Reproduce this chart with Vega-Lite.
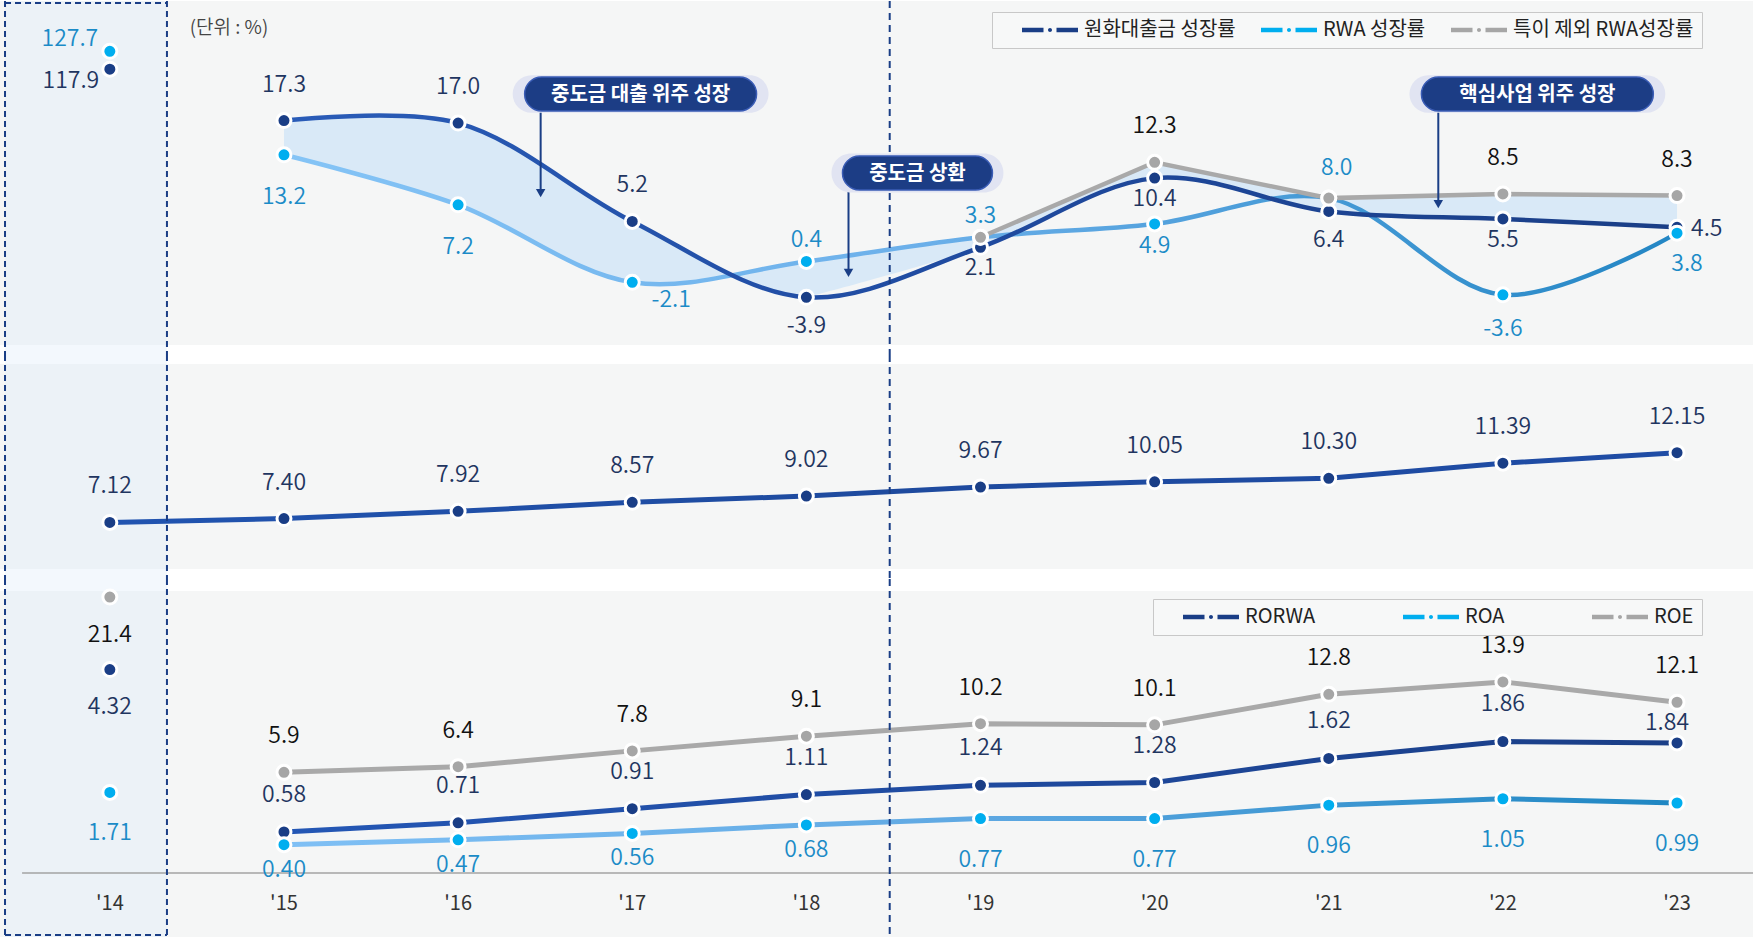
{
 "$schema": "https://vega.github.io/schema/vega-lite/v6.json",
 "padding": 0,
 "background": "#ffffff",
 "config": {"view": {"stroke": null}, "font": "Noto Sans CJK KR", "text": {"font": "Noto Sans CJK KR", "fontWeight": 350}},
 "datasets": {
  "growth": [
   {"year": 2014, "loan": 117.9, "rwa": 127.7, "ex": null},
   {"year": 2015, "loan": 17.3, "rwa": 13.2, "ex": null},
   {"year": 2016, "loan": 17.0, "rwa": 7.2, "ex": null},
   {"year": 2017, "loan": 5.2, "rwa": -2.1, "ex": null},
   {"year": 2018, "loan": -3.9, "rwa": 0.4, "ex": null},
   {"year": 2019, "loan": 2.1, "rwa": 3.3, "ex": 3.3},
   {"year": 2020, "loan": 10.4, "rwa": 4.9, "ex": 12.3},
   {"year": 2021, "loan": 6.4, "rwa": 8.0, "ex": 8.0},
   {"year": 2022, "loan": 5.5, "rwa": -3.6, "ex": 8.5},
   {"year": 2023, "loan": 4.5, "rwa": 3.8, "ex": 8.3}
  ],
  "cap": [
   {"year": 2014, "v": 7.12}, {"year": 2015, "v": 7.40}, {"year": 2016, "v": 7.92}, {"year": 2017, "v": 8.57}, {"year": 2018, "v": 9.02},
   {"year": 2019, "v": 9.67}, {"year": 2020, "v": 10.05}, {"year": 2021, "v": 10.30}, {"year": 2022, "v": 11.39}, {"year": 2023, "v": 12.15}
  ],
  "prof": [
   {"year": 2014, "rorwa": 4.32, "roa": 1.71, "roe": 21.4},
   {"year": 2015, "rorwa": 0.58, "roa": 0.40, "roe": 5.9},
   {"year": 2016, "rorwa": 0.71, "roa": 0.47, "roe": 6.4},
   {"year": 2017, "rorwa": 0.91, "roa": 0.56, "roe": 7.8},
   {"year": 2018, "rorwa": 1.11, "roa": 0.68, "roe": 9.1},
   {"year": 2019, "rorwa": 1.24, "roa": 0.77, "roe": 10.2},
   {"year": 2020, "rorwa": 1.28, "roa": 0.77, "roe": 10.1},
   {"year": 2021, "rorwa": 1.62, "roa": 0.96, "roe": 12.8},
   {"year": 2022, "rorwa": 1.86, "roa": 1.05, "roe": 13.9},
   {"year": 2023, "rorwa": 1.84, "roa": 0.99, "roe": 12.1}
  ]
 },
 "spacing": 0,
 "bounds": "flush",
 "resolve": {"scale": {"y": "independent", "color": "independent"}, "legend": {"color": "independent"}},
 "vconcat": [
  {
   "width": 1753, "height": 354,
   "data": {"name": "growth"},
   "resolve": {"scale": {"y": "independent"}},
   "layer": [
    {"data": {"values": [{}]}, "mark": {"type": "rect", "fill": "#f5f6f6"},
     "encoding": {"y": {"datum": 31.65, "type": "quantitative", "scale": {"domain": [-10.822, 31.65], "nice": false, "zero": false}, "axis": null}, "y2": {"datum": -9.622}}},
    {"data": {"values": [{}]}, "mark": {"type": "rect", "fill": "#dbeaf9", "opacity": 0.333},
     "encoding": {"x": {"datum": 2013.398, "type": "quantitative", "scale": {"domain": [2013.3692, 2023.4363], "nice": false, "zero": false}, "axis": null}, "x2": {"datum": 2014.328}}},
    {"transform": [{"filter": "datum.year >= 2015 && datum.year <= 2019"}],
     "mark": {"type": "area", "interpolate": "catmull-rom", "fill": "#d9e9f7"},
     "encoding": {"x": {"field": "year", "type": "quantitative", "scale": {"domain": [2013.3692, 2023.4363], "nice": false, "zero": false}, "axis": null},
      "y": {"field": "loan", "type": "quantitative", "scale": {"domain": [-10.822, 31.65], "nice": false, "zero": false}, "axis": null}, "y2": {"field": "rwa"}}},
    {"transform": [{"filter": "datum.year >= 2019"}],
     "mark": {"type": "area", "fill": "#d9e9f7"},
     "encoding": {"x": {"field": "year", "type": "quantitative", "scale": {"domain": [2013.3692, 2023.4363], "nice": false, "zero": false}, "axis": null},
      "y": {"field": "ex", "type": "quantitative", "scale": {"domain": [-10.822, 31.65], "nice": false, "zero": false}, "axis": null}, "y2": {"datum": -9.622}}},
    {"transform": [{"filter": "datum.year >= 2018"}],
     "mark": {"type": "area", "interpolate": "catmull-rom", "fill": "#f5f6f6"},
     "encoding": {"x": {"field": "year", "type": "quantitative", "scale": {"domain": [2013.3692, 2023.4363], "nice": false, "zero": false}, "axis": null},
      "y": {"field": "loan", "type": "quantitative", "scale": {"domain": [-10.822, 31.65], "nice": false, "zero": false}, "axis": null}, "y2": {"datum": -9.622}}},
    {"transform": [{"filter": "datum.year >= 2015"}],
     "mark": {"type": "line", "interpolate": "catmull-rom", "strokeWidth": 4.5, "strokeCap": "round",
      "stroke": {"gradient": "linear", "x1": 0, "y1": 0, "x2": 1, "y2": 0, "stops": [{"offset": 0, "color": "#85c4f6"}, {"offset": 0.45, "color": "#6cb0ea"}, {"offset": 1, "color": "#2386c4"}]}},
     "encoding": {"x": {"field": "year", "type": "quantitative", "scale": {"domain": [2013.3692, 2023.4363], "nice": false, "zero": false}, "axis": null},
      "y": {"field": "rwa", "type": "quantitative", "scale": {"domain": [-10.822, 31.65], "nice": false, "zero": false}, "axis": null}}},
    {"transform": [{"filter": "datum.year >= 2015"}],
     "mark": {"type": "line", "interpolate": "catmull-rom", "strokeWidth": 4.5, "strokeCap": "round",
      "stroke": {"gradient": "linear", "x1": 0, "y1": 0, "x2": 1, "y2": 0, "stops": [{"offset": 0, "color": "#2a5cb8"}, {"offset": 0.5, "color": "#1f4a9f"}, {"offset": 1, "color": "#1a3e86"}]}},
     "encoding": {"x": {"field": "year", "type": "quantitative", "scale": {"domain": [2013.3692, 2023.4363], "nice": false, "zero": false}, "axis": null},
      "y": {"field": "loan", "type": "quantitative", "scale": {"domain": [-10.822, 31.65], "nice": false, "zero": false}, "axis": null}}},
    {"transform": [{"filter": "datum.year >= 2019"}],
     "mark": {"type": "line", "strokeWidth": 4.5, "stroke": "#a9a9a9", "strokeCap": "round"},
     "encoding": {"x": {"field": "year", "type": "quantitative", "scale": {"domain": [2013.3692, 2023.4363], "nice": false, "zero": false}, "axis": null},
      "y": {"field": "ex", "type": "quantitative", "scale": {"domain": [-10.822, 31.65], "nice": false, "zero": false}, "axis": null}}},
    {"data": {"values": [{}]}, "mark": {"type": "rule", "stroke": "#1a3e86", "strokeWidth": 2, "strokeDash": [7, 5]},
     "encoding": {"x": {"datum": 2018.4786, "type": "quantitative", "scale": {"domain": [2013.3692, 2023.4363], "nice": false, "zero": false}, "axis": null}}},
    {"data": {"values": [{}]}, "mark": {"type": "rule", "stroke": "#1a3e86", "strokeWidth": 2, "strokeDash": [6, 4]},
     "encoding": {"x": {"datum": 2013.398, "type": "quantitative", "scale": {"domain": [2013.3692, 2023.4363], "nice": false, "zero": false}, "axis": null}}},
    {"data": {"values": [{}]}, "mark": {"type": "rule", "stroke": "#1a3e86", "strokeWidth": 2, "strokeDash": [6, 4]},
     "encoding": {"x": {"datum": 2014.328, "type": "quantitative", "scale": {"domain": [2013.3692, 2023.4363], "nice": false, "zero": false}, "axis": null}}},
    {"data": {"values": [{}]}, "mark": {"type": "rule", "stroke": "#1a3e86", "strokeWidth": 2, "strokeDash": [6, 4]},
     "encoding": {"x": {"datum": 2013.398, "type": "quantitative", "scale": {"domain": [2013.3692, 2023.4363], "nice": false, "zero": false}, "axis": null}, "x2": {"datum": 2014.328},
      "y": {"datum": 31.41, "type": "quantitative", "scale": {"domain": [-10.822, 31.65], "nice": false, "zero": false}, "axis": null}}},
    {"transform": [{"filter": "datum.year >= 2015"}, {"fold": ["loan", "rwa", "ex"]}, {"filter": "isValid(datum.value)"}],
     "mark": {"type": "point", "filled": true, "size": 196, "stroke": "#ffffff", "strokeWidth": 3, "opacity": 1},
     "encoding": {"x": {"field": "year", "type": "quantitative", "scale": {"domain": [2013.3692, 2023.4363], "nice": false, "zero": false}, "axis": null},
      "y": {"field": "value", "type": "quantitative", "scale": {"domain": [-10.822, 31.65], "nice": false, "zero": false}, "axis": null},
      "color": {"field": "key", "type": "nominal", "scale": {"domain": ["loan", "rwa", "ex"], "range": ["#1a3e86", "#00aeef", "#a6a6a6"]},
       "legend": {"orient": "none", "legendX": 992, "legendY": 11, "direction": "horizontal", "columns": 3, "title": null,
        "symbolType": "M-2.8,-0.225H-0.65V0.225H-2.8Z M0.65,-0.225H2.8V0.225H0.65Z M-0.2,0A0.2,0.2 0 1,0 0.2,0A0.2,0.2 0 1,0 -0.2,0Z",
        "symbolSize": 400, "symbolOffset": 40, "symbolStrokeWidth": 0, "symbolOpacity": 1, "labelFont": "Noto Sans CJK KR", "labelFontSize": 20, "labelColor": "#222222",
        "labelOffset": 24, "labelLimit": 400, "columnPadding": 3, "padding": 8, "strokeColor": "#c8c8c8", "fillColor": "#f7f8f8",
        "labelExpr": "datum.label == 'loan' ? '원화대출금 성장률' : datum.label == 'rwa' ? 'RWA 성장률' : '특이 제외 RWA성장률'"}}}},
    {"transform": [{"filter": "datum.year == 2014"}],
     "mark": {"type": "point", "filled": true, "size": 196, "stroke": "#ffffff", "strokeWidth": 3, "color": "#00aeef", "opacity": 1},
     "encoding": {"x": {"field": "year", "type": "quantitative", "scale": {"domain": [2013.3692, 2023.4363], "nice": false, "zero": false}, "axis": null},
      "y": {"field": "rwa", "type": "quantitative", "scale": {"domain": [-38.53, 155.23], "nice": false, "zero": false}, "axis": null}}},
    {"transform": [{"filter": "datum.year == 2014"}],
     "mark": {"type": "point", "filled": true, "size": 196, "stroke": "#ffffff", "strokeWidth": 3, "color": "#1a3e86", "opacity": 1},
     "encoding": {"x": {"field": "year", "type": "quantitative", "scale": {"domain": [2013.3692, 2023.4363], "nice": false, "zero": false}, "axis": null},
      "y": {"field": "loan", "type": "quantitative", "scale": {"domain": [-38.53, 155.23], "nice": false, "zero": false}, "axis": null}}},
    {"transform": [{"filter": "datum.year == 2014"}],
     "mark": {"type": "text", "fontSize": 23, "dx": -40, "dy": -12, "color": "#1b8bc7"},
     "encoding": {"x": {"field": "year", "type": "quantitative", "scale": {"domain": [2013.3692, 2023.4363], "nice": false, "zero": false}, "axis": null},
      "y": {"field": "rwa", "type": "quantitative", "scale": {"domain": [-38.53, 155.23], "nice": false, "zero": false}, "axis": null}, "text": {"field": "rwa", "type": "quantitative", "format": ".1f"}}},
    {"transform": [{"filter": "datum.year == 2014"}],
     "mark": {"type": "text", "fontSize": 23, "dx": -39, "dy": 12, "color": "#1f3560"},
     "encoding": {"x": {"field": "year", "type": "quantitative", "scale": {"domain": [2013.3692, 2023.4363], "nice": false, "zero": false}, "axis": null},
      "y": {"field": "loan", "type": "quantitative", "scale": {"domain": [-38.53, 155.23], "nice": false, "zero": false}, "axis": null}, "text": {"field": "loan", "type": "quantitative", "format": ".1f"}}},
    {"transform": [{"filter": "indexof([2015,2016,2017], datum.year) >= 0"}, {"calculate": "replace(format(datum.loan, '.1f'), '−', '-')", "as": "lbl"}],
     "mark": {"type": "text", "fontSize": 23, "dy": -36, "color": "#1f3560"},
     "encoding": {"x": {"field": "year", "type": "quantitative", "scale": {"domain": [2013.3692, 2023.4363], "nice": false, "zero": false}, "axis": null},
      "y": {"field": "loan", "type": "quantitative", "scale": {"domain": [-10.822, 31.65], "nice": false, "zero": false}, "axis": null}, "text": {"field": "lbl", "type": "nominal"}}},
    {"transform": [{"filter": "indexof([2018,2021], datum.year) >= 0"}, {"calculate": "replace(format(datum.loan, '.1f'), '−', '-')", "as": "lbl"}],
     "mark": {"type": "text", "fontSize": 23, "dy": 29, "color": "#1f3560"},
     "encoding": {"x": {"field": "year", "type": "quantitative", "scale": {"domain": [2013.3692, 2023.4363], "nice": false, "zero": false}, "axis": null},
      "y": {"field": "loan", "type": "quantitative", "scale": {"domain": [-10.822, 31.65], "nice": false, "zero": false}, "axis": null}, "text": {"field": "lbl", "type": "nominal"}}},
    {"transform": [{"filter": "indexof([2019,2020,2022], datum.year) >= 0"}, {"calculate": "replace(format(datum.loan, '.1f'), '−', '-')", "as": "lbl"}],
     "mark": {"type": "text", "fontSize": 23, "dy": 21, "color": "#1f3560"},
     "encoding": {"x": {"field": "year", "type": "quantitative", "scale": {"domain": [2013.3692, 2023.4363], "nice": false, "zero": false}, "axis": null},
      "y": {"field": "loan", "type": "quantitative", "scale": {"domain": [-10.822, 31.65], "nice": false, "zero": false}, "axis": null}, "text": {"field": "lbl", "type": "nominal"}}},
    {"transform": [{"filter": "datum.year == 2023"}, {"calculate": "replace(format(datum.loan, '.1f'), '−', '-')", "as": "lbl"}],
     "mark": {"type": "text", "fontSize": 23, "dx": 14, "dy": 2, "align": "left", "color": "#1f3560"},
     "encoding": {"x": {"field": "year", "type": "quantitative", "scale": {"domain": [2013.3692, 2023.4363], "nice": false, "zero": false}, "axis": null},
      "y": {"field": "loan", "type": "quantitative", "scale": {"domain": [-10.822, 31.65], "nice": false, "zero": false}, "axis": null}, "text": {"field": "lbl", "type": "nominal"}}},
    {"transform": [{"filter": "indexof([2015,2016], datum.year) >= 0"}, {"calculate": "replace(format(datum.rwa, '.1f'), '−', '-')", "as": "lbl"}],
     "mark": {"type": "text", "fontSize": 23, "dy": 42, "color": "#1b8bc7"},
     "encoding": {"x": {"field": "year", "type": "quantitative", "scale": {"domain": [2013.3692, 2023.4363], "nice": false, "zero": false}, "axis": null},
      "y": {"field": "rwa", "type": "quantitative", "scale": {"domain": [-10.822, 31.65], "nice": false, "zero": false}, "axis": null}, "text": {"field": "lbl", "type": "nominal"}}},
    {"transform": [{"filter": "datum.year == 2017"}, {"calculate": "replace(format(datum.rwa, '.1f'), '−', '-')", "as": "lbl"}],
     "mark": {"type": "text", "fontSize": 23, "dx": 39, "dy": 18, "color": "#1b8bc7"},
     "encoding": {"x": {"field": "year", "type": "quantitative", "scale": {"domain": [2013.3692, 2023.4363], "nice": false, "zero": false}, "axis": null},
      "y": {"field": "rwa", "type": "quantitative", "scale": {"domain": [-10.822, 31.65], "nice": false, "zero": false}, "axis": null}, "text": {"field": "lbl", "type": "nominal"}}},
    {"transform": [{"filter": "indexof([2018,2019], datum.year) >= 0"}, {"calculate": "replace(format(datum.rwa, '.1f'), '−', '-')", "as": "lbl"}],
     "mark": {"type": "text", "fontSize": 23, "dy": -21, "color": "#1b8bc7"},
     "encoding": {"x": {"field": "year", "type": "quantitative", "scale": {"domain": [2013.3692, 2023.4363], "nice": false, "zero": false}, "axis": null},
      "y": {"field": "rwa", "type": "quantitative", "scale": {"domain": [-10.822, 31.65], "nice": false, "zero": false}, "axis": null}, "text": {"field": "lbl", "type": "nominal"}}},
    {"transform": [{"filter": "datum.year == 2020"}, {"calculate": "replace(format(datum.rwa, '.1f'), '−', '-')", "as": "lbl"}],
     "mark": {"type": "text", "fontSize": 23, "dy": 22, "color": "#1b8bc7"},
     "encoding": {"x": {"field": "year", "type": "quantitative", "scale": {"domain": [2013.3692, 2023.4363], "nice": false, "zero": false}, "axis": null},
      "y": {"field": "rwa", "type": "quantitative", "scale": {"domain": [-10.822, 31.65], "nice": false, "zero": false}, "axis": null}, "text": {"field": "lbl", "type": "nominal"}}},
    {"transform": [{"filter": "datum.year == 2021"}, {"calculate": "replace(format(datum.rwa, '.1f'), '−', '-')", "as": "lbl"}],
     "mark": {"type": "text", "fontSize": 23, "dy": -30, "dx": 8, "color": "#1b8bc7"},
     "encoding": {"x": {"field": "year", "type": "quantitative", "scale": {"domain": [2013.3692, 2023.4363], "nice": false, "zero": false}, "axis": null},
      "y": {"field": "rwa", "type": "quantitative", "scale": {"domain": [-10.822, 31.65], "nice": false, "zero": false}, "axis": null}, "text": {"field": "lbl", "type": "nominal"}}},
    {"transform": [{"filter": "datum.year == 2022"}, {"calculate": "replace(format(datum.rwa, '.1f'), '−', '-')", "as": "lbl"}],
     "mark": {"type": "text", "fontSize": 23, "dy": 34, "color": "#1b8bc7"},
     "encoding": {"x": {"field": "year", "type": "quantitative", "scale": {"domain": [2013.3692, 2023.4363], "nice": false, "zero": false}, "axis": null},
      "y": {"field": "rwa", "type": "quantitative", "scale": {"domain": [-10.822, 31.65], "nice": false, "zero": false}, "axis": null}, "text": {"field": "lbl", "type": "nominal"}}},
    {"transform": [{"filter": "datum.year == 2023"}, {"calculate": "replace(format(datum.rwa, '.1f'), '−', '-')", "as": "lbl"}],
     "mark": {"type": "text", "fontSize": 23, "dx": 10, "dy": 31, "color": "#1b8bc7"},
     "encoding": {"x": {"field": "year", "type": "quantitative", "scale": {"domain": [2013.3692, 2023.4363], "nice": false, "zero": false}, "axis": null},
      "y": {"field": "rwa", "type": "quantitative", "scale": {"domain": [-10.822, 31.65], "nice": false, "zero": false}, "axis": null}, "text": {"field": "lbl", "type": "nominal"}}},
    {"transform": [{"filter": "indexof([2020,2022,2023], datum.year) >= 0"}],
     "mark": {"type": "text", "fontSize": 23, "dy": -36, "color": "#111111"},
     "encoding": {"x": {"field": "year", "type": "quantitative", "scale": {"domain": [2013.3692, 2023.4363], "nice": false, "zero": false}, "axis": null},
      "y": {"field": "ex", "type": "quantitative", "scale": {"domain": [-10.822, 31.65], "nice": false, "zero": false}, "axis": null}, "text": {"field": "ex", "type": "quantitative", "format": ".1f"}}},
    {"data": {"values": [{}]}, "mark": {"type": "text", "text": "(단위 : %)", "fontSize": 19, "align": "left", "color": "#444444"},
     "encoding": {"x": {"datum": 2014.459, "type": "quantitative", "scale": {"domain": [2013.3692, 2023.4363], "nice": false, "zero": false}, "axis": null},
      "y": {"datum": 28.41, "type": "quantitative", "scale": {"domain": [-10.822, 31.65], "nice": false, "zero": false}, "axis": null}}},
    {"data": {"values": [{}]}, "mark": {"type": "rule", "stroke": "#1a3e86", "strokeWidth": 2},
     "encoding": {"x": {"datum": 2016.474, "type": "quantitative", "scale": {"domain": [2013.3692, 2023.4363], "nice": false, "zero": false}, "axis": null},
      "y": {"datum": 20.49, "type": "quantitative", "scale": {"domain": [-10.822, 31.65], "nice": false, "zero": false}, "axis": null}, "y2": {"datum": 8.61}}},
    {"data": {"values": [{}]}, "mark": {"type": "point", "shape": "triangle-down", "filled": true, "size": 90, "color": "#1a3e86", "opacity": 1},
     "encoding": {"x": {"datum": 2016.474, "type": "quantitative", "scale": {"domain": [2013.3692, 2023.4363], "nice": false, "zero": false}, "axis": null},
      "y": {"datum": 8.61, "type": "quantitative", "scale": {"domain": [-10.822, 31.65], "nice": false, "zero": false}, "axis": null}}},
    {"data": {"values": [{}]}, "mark": {"type": "rule", "stroke": "#1a3e86", "strokeWidth": 2},
     "encoding": {"x": {"datum": 2018.242, "type": "quantitative", "scale": {"domain": [2013.3692, 2023.4363], "nice": false, "zero": false}, "axis": null},
      "y": {"datum": 11.01, "type": "quantitative", "scale": {"domain": [-10.822, 31.65], "nice": false, "zero": false}, "axis": null}, "y2": {"datum": -0.98}}},
    {"data": {"values": [{}]}, "mark": {"type": "point", "shape": "triangle-down", "filled": true, "size": 90, "color": "#1a3e86", "opacity": 1},
     "encoding": {"x": {"datum": 2018.242, "type": "quantitative", "scale": {"domain": [2013.3692, 2023.4363], "nice": false, "zero": false}, "axis": null},
      "y": {"datum": -0.98, "type": "quantitative", "scale": {"domain": [-10.822, 31.65], "nice": false, "zero": false}, "axis": null}}},
    {"data": {"values": [{}]}, "mark": {"type": "rule", "stroke": "#1a3e86", "strokeWidth": 2},
     "encoding": {"x": {"datum": 2021.629, "type": "quantitative", "scale": {"domain": [2013.3692, 2023.4363], "nice": false, "zero": false}, "axis": null},
      "y": {"datum": 20.49, "type": "quantitative", "scale": {"domain": [-10.822, 31.65], "nice": false, "zero": false}, "axis": null}, "y2": {"datum": 7.29}}},
    {"data": {"values": [{}]}, "mark": {"type": "point", "shape": "triangle-down", "filled": true, "size": 90, "color": "#1a3e86", "opacity": 1},
     "encoding": {"x": {"datum": 2021.629, "type": "quantitative", "scale": {"domain": [2013.3692, 2023.4363], "nice": false, "zero": false}, "axis": null},
      "y": {"datum": 7.29, "type": "quantitative", "scale": {"domain": [-10.822, 31.65], "nice": false, "zero": false}, "axis": null}}},
    {"data": {"values": [{}]}, "mark": {"type": "point", "filled": true, "opacity": 1, "color": "#e1e4f2", "size": 65536,
      "shape": "M-0.853,-0.1466H0.853A0.1466,0.1466 0 0 1 0.853,0.1466H-0.853A0.1466,0.1466 0 0 1 -0.853,-0.1466Z"},
     "encoding": {"x": {"datum": 2017.048, "type": "quantitative", "scale": {"domain": [2013.3692, 2023.4363], "nice": false, "zero": false}, "axis": null},
      "y": {"datum": 20.49, "type": "quantitative", "scale": {"domain": [-10.822, 31.65], "nice": false, "zero": false}, "axis": null}}},
    {"data": {"values": [{}]}, "mark": {"type": "point", "filled": true, "opacity": 1, "color": "#e1e4f2", "size": 65536,
      "shape": "M-0.853,-0.1466H0.853A0.1466,0.1466 0 0 1 0.853,0.1466H-0.853A0.1466,0.1466 0 0 1 -0.853,-0.1466Z"},
     "encoding": {"x": {"datum": 2022.198, "type": "quantitative", "scale": {"domain": [2013.3692, 2023.4363], "nice": false, "zero": false}, "axis": null},
      "y": {"datum": 20.49, "type": "quantitative", "scale": {"domain": [-10.822, 31.65], "nice": false, "zero": false}, "axis": null}}},
    {"data": {"values": [{}]}, "mark": {"type": "point", "filled": true, "opacity": 1, "color": "#e1e4f2", "size": 29584,
      "shape": "M-0.773,-0.2267H0.773A0.2267,0.2267 0 0 1 0.773,0.2267H-0.773A0.2267,0.2267 0 0 1 -0.773,-0.2267Z"},
     "encoding": {"x": {"datum": 2018.638, "type": "quantitative", "scale": {"domain": [2013.3692, 2023.4363], "nice": false, "zero": false}, "axis": null},
      "y": {"datum": 11.01, "type": "quantitative", "scale": {"domain": [-10.822, 31.65], "nice": false, "zero": false}, "axis": null}}},
    {"data": {"values": [{}]}, "mark": {"type": "point", "filled": true, "opacity": 1, "fill": "#1c3d85", "stroke": "#3a5cb5", "strokeWidth": 1.5, "size": 53824,
      "shape": "M-0.853,-0.1466H0.853A0.1466,0.1466 0 0 1 0.853,0.1466H-0.853A0.1466,0.1466 0 0 1 -0.853,-0.1466Z"},
     "encoding": {"x": {"datum": 2017.048, "type": "quantitative", "scale": {"domain": [2013.3692, 2023.4363], "nice": false, "zero": false}, "axis": null},
      "y": {"datum": 20.49, "type": "quantitative", "scale": {"domain": [-10.822, 31.65], "nice": false, "zero": false}, "axis": null}}},
    {"data": {"values": [{}]}, "mark": {"type": "point", "filled": true, "opacity": 1, "fill": "#1c3d85", "stroke": "#3a5cb5", "strokeWidth": 1.5, "size": 53824,
      "shape": "M-0.853,-0.1466H0.853A0.1466,0.1466 0 0 1 0.853,0.1466H-0.853A0.1466,0.1466 0 0 1 -0.853,-0.1466Z"},
     "encoding": {"x": {"datum": 2022.198, "type": "quantitative", "scale": {"domain": [2013.3692, 2023.4363], "nice": false, "zero": false}, "axis": null},
      "y": {"datum": 20.49, "type": "quantitative", "scale": {"domain": [-10.822, 31.65], "nice": false, "zero": false}, "axis": null}}},
    {"data": {"values": [{}]}, "mark": {"type": "point", "filled": true, "opacity": 1, "fill": "#1c3d85", "stroke": "#3a5cb5", "strokeWidth": 1.5, "size": 22500,
      "shape": "M-0.773,-0.2267H0.773A0.2267,0.2267 0 0 1 0.773,0.2267H-0.773A0.2267,0.2267 0 0 1 -0.773,-0.2267Z"},
     "encoding": {"x": {"datum": 2018.638, "type": "quantitative", "scale": {"domain": [2013.3692, 2023.4363], "nice": false, "zero": false}, "axis": null},
      "y": {"datum": 11.01, "type": "quantitative", "scale": {"domain": [-10.822, 31.65], "nice": false, "zero": false}, "axis": null}}},
    {"data": {"values": [{}]}, "mark": {"type": "text", "text": "중도금 대출 위주 성장", "fontSize": 20, "fontWeight": "bold", "color": "#ffffff", "dy": 1},
     "encoding": {"x": {"datum": 2017.048, "type": "quantitative", "scale": {"domain": [2013.3692, 2023.4363], "nice": false, "zero": false}, "axis": null},
      "y": {"datum": 20.49, "type": "quantitative", "scale": {"domain": [-10.822, 31.65], "nice": false, "zero": false}, "axis": null}}},
    {"data": {"values": [{}]}, "mark": {"type": "text", "text": "핵심사업 위주 성장", "fontSize": 20, "fontWeight": "bold", "color": "#ffffff", "dy": 1},
     "encoding": {"x": {"datum": 2022.198, "type": "quantitative", "scale": {"domain": [2013.3692, 2023.4363], "nice": false, "zero": false}, "axis": null},
      "y": {"datum": 20.49, "type": "quantitative", "scale": {"domain": [-10.822, 31.65], "nice": false, "zero": false}, "axis": null}}},
    {"data": {"values": [{}]}, "mark": {"type": "text", "text": "중도금 상환", "fontSize": 20, "fontWeight": "bold", "color": "#ffffff", "dy": 1},
     "encoding": {"x": {"datum": 2018.638, "type": "quantitative", "scale": {"domain": [2013.3692, 2023.4363], "nice": false, "zero": false}, "axis": null},
      "y": {"datum": 11.01, "type": "quantitative", "scale": {"domain": [-10.822, 31.65], "nice": false, "zero": false}, "axis": null}}}
   ]
  },
  {
   "width": 1753, "height": 224,
   "data": {"name": "cap"},
   "resolve": {"scale": {"y": "independent"}},
   "layer": [
    {"data": {"values": [{}]}, "mark": {"type": "rect", "fill": "#f5f6f6"},
     "encoding": {"y": {"datum": 18.544, "type": "quantitative", "scale": {"domain": [3.0425, 19.193], "nice": false, "zero": false}, "axis": null}, "y2": {"datum": 3.7635}}},
    {"data": {"values": [{}]}, "mark": {"type": "rect", "fill": "#dbeaf9", "opacity": 0.333},
     "encoding": {"x": {"datum": 2013.398, "type": "quantitative", "scale": {"domain": [2013.3692, 2023.4363], "nice": false, "zero": false}, "axis": null}, "x2": {"datum": 2014.328}}},
    {"mark": {"type": "line", "strokeWidth": 5, "strokeCap": "round",
      "stroke": {"gradient": "linear", "x1": 0, "y1": 0, "x2": 1, "y2": 0, "stops": [{"offset": 0, "color": "#2154b0"}, {"offset": 0.5, "color": "#1e4a9e"}, {"offset": 1, "color": "#1f4ca5"}]}},
     "encoding": {"x": {"field": "year", "type": "quantitative", "scale": {"domain": [2013.3692, 2023.4363], "nice": false, "zero": false}, "axis": null},
      "y": {"field": "v", "type": "quantitative", "scale": {"domain": [3.0425, 19.193], "nice": false, "zero": false}, "axis": null}}},
    {"data": {"values": [{}]}, "mark": {"type": "rule", "stroke": "#1a3e86", "strokeWidth": 2, "strokeDash": [7, 5]},
     "encoding": {"x": {"datum": 2018.4786, "type": "quantitative", "scale": {"domain": [2013.3692, 2023.4363], "nice": false, "zero": false}, "axis": null}}},
    {"data": {"values": [{}]}, "mark": {"type": "rule", "stroke": "#1a3e86", "strokeWidth": 2, "strokeDash": [6, 4]},
     "encoding": {"x": {"datum": 2013.398, "type": "quantitative", "scale": {"domain": [2013.3692, 2023.4363], "nice": false, "zero": false}, "axis": null}}},
    {"data": {"values": [{}]}, "mark": {"type": "rule", "stroke": "#1a3e86", "strokeWidth": 2, "strokeDash": [6, 4]},
     "encoding": {"x": {"datum": 2014.328, "type": "quantitative", "scale": {"domain": [2013.3692, 2023.4363], "nice": false, "zero": false}, "axis": null}}},
    {"mark": {"type": "point", "filled": true, "size": 196, "stroke": "#ffffff", "strokeWidth": 3, "color": "#1a3e86", "opacity": 1},
     "encoding": {"x": {"field": "year", "type": "quantitative", "scale": {"domain": [2013.3692, 2023.4363], "nice": false, "zero": false}, "axis": null},
      "y": {"field": "v", "type": "quantitative", "scale": {"domain": [3.0425, 19.193], "nice": false, "zero": false}, "axis": null}}},
    {"mark": {"type": "text", "fontSize": 23, "dy": -36, "color": "#1f3560"},
     "encoding": {"x": {"field": "year", "type": "quantitative", "scale": {"domain": [2013.3692, 2023.4363], "nice": false, "zero": false}, "axis": null},
      "y": {"field": "v", "type": "quantitative", "scale": {"domain": [3.0425, 19.193], "nice": false, "zero": false}, "axis": null}, "text": {"field": "v", "type": "quantitative", "format": ".2f"}}}
   ]
  },
  {
   "width": 1753, "height": 359,
   "data": {"name": "prof"},
   "resolve": {"scale": {"y": "independent"}},
   "layer": [
    {"data": {"values": [{}]}, "mark": {"type": "rect", "fill": "#f5f6f6"},
     "encoding": {"y": {"datum": 21.936, "type": "quantitative", "scale": {"domain": [-8.745, 22.997], "nice": false, "zero": false}, "axis": null}, "y2": {"datum": -8.745}}},
    {"data": {"values": [{}]}, "mark": {"type": "rect", "fill": "#dbeaf9", "opacity": 0.333},
     "encoding": {"x": {"datum": 2013.398, "type": "quantitative", "scale": {"domain": [2013.3692, 2023.4363], "nice": false, "zero": false}, "axis": null}, "x2": {"datum": 2014.328}}},
    {"data": {"values": [{}]}, "mark": {"type": "rule", "stroke": "#a3a3a3", "strokeWidth": 1.5},
     "encoding": {"x": {"datum": 2013.496, "type": "quantitative", "scale": {"domain": [2013.3692, 2023.4363], "nice": false, "zero": false}, "axis": null}, "x2": {"datum": 2023.4363},
      "y": {"datum": 0, "type": "quantitative", "scale": {"domain": [-0.9194, 4.1584], "nice": false, "zero": false}, "axis": null}}},
    {"transform": [{"calculate": "\"'\" + substring(toString(datum.year), 2)", "as": "yl"}],
     "mark": {"type": "text", "fontSize": 20, "fontWeight": 400, "color": "#333333"},
     "encoding": {"x": {"field": "year", "type": "quantitative", "scale": {"domain": [2013.3692, 2023.4363], "nice": false, "zero": false}, "axis": null},
      "y": {"datum": -0.4385, "type": "quantitative", "scale": {"domain": [-0.9194, 4.1584], "nice": false, "zero": false}, "axis": null}, "text": {"field": "yl", "type": "nominal"}}},
    {"transform": [{"filter": "datum.year >= 2015"}],
     "mark": {"type": "line", "strokeWidth": 5, "stroke": "#a9a9a9", "strokeCap": "round"},
     "encoding": {"x": {"field": "year", "type": "quantitative", "scale": {"domain": [2013.3692, 2023.4363], "nice": false, "zero": false}, "axis": null},
      "y": {"field": "roe", "type": "quantitative", "scale": {"domain": [-8.745, 22.997], "nice": false, "zero": false}, "axis": null}}},
    {"transform": [{"filter": "datum.year >= 2015"}],
     "mark": {"type": "line", "strokeWidth": 5, "strokeCap": "round",
      "stroke": {"gradient": "linear", "x1": 0, "y1": 0, "x2": 1, "y2": 0, "stops": [{"offset": 0, "color": "#80c0f5"}, {"offset": 0.5, "color": "#5ea8e2"}, {"offset": 1, "color": "#1e86c2"}]}},
     "encoding": {"x": {"field": "year", "type": "quantitative", "scale": {"domain": [2013.3692, 2023.4363], "nice": false, "zero": false}, "axis": null},
      "y": {"field": "roa", "type": "quantitative", "scale": {"domain": [-0.9194, 4.1584], "nice": false, "zero": false}, "axis": null}}},
    {"transform": [{"filter": "datum.year >= 2015"}],
     "mark": {"type": "line", "strokeWidth": 5, "strokeCap": "round",
      "stroke": {"gradient": "linear", "x1": 0, "y1": 0, "x2": 1, "y2": 0, "stops": [{"offset": 0, "color": "#2457b5"}, {"offset": 0.5, "color": "#1f4a9f"}, {"offset": 1, "color": "#1a3e86"}]}},
     "encoding": {"x": {"field": "year", "type": "quantitative", "scale": {"domain": [2013.3692, 2023.4363], "nice": false, "zero": false}, "axis": null},
      "y": {"field": "rorwa", "type": "quantitative", "scale": {"domain": [-0.9194, 4.1584], "nice": false, "zero": false}, "axis": null}}},
    {"data": {"values": [{}]}, "mark": {"type": "rule", "stroke": "#1a3e86", "strokeWidth": 2, "strokeDash": [7, 5]},
     "encoding": {"x": {"datum": 2018.4786, "type": "quantitative", "scale": {"domain": [2013.3692, 2023.4363], "nice": false, "zero": false}, "axis": null}}},
    {"data": {"values": [{}]}, "mark": {"type": "rule", "stroke": "#1a3e86", "strokeWidth": 2, "strokeDash": [6, 4]},
     "encoding": {"x": {"datum": 2013.398, "type": "quantitative", "scale": {"domain": [2013.3692, 2023.4363], "nice": false, "zero": false}, "axis": null}}},
    {"data": {"values": [{}]}, "mark": {"type": "rule", "stroke": "#1a3e86", "strokeWidth": 2, "strokeDash": [6, 4]},
     "encoding": {"x": {"datum": 2014.328, "type": "quantitative", "scale": {"domain": [2013.3692, 2023.4363], "nice": false, "zero": false}, "axis": null}}},
    {"data": {"values": [{}]}, "mark": {"type": "rule", "stroke": "#1a3e86", "strokeWidth": 2, "strokeDash": [6, 4]},
     "encoding": {"x": {"datum": 2013.398, "type": "quantitative", "scale": {"domain": [2013.3692, 2023.4363], "nice": false, "zero": false}, "axis": null}, "x2": {"datum": 2014.328},
      "y": {"datum": -8.479, "type": "quantitative", "scale": {"domain": [-8.745, 22.997], "nice": false, "zero": false}, "axis": null}}},
    {"transform": [{"filter": "datum.year >= 2015"}, {"fold": ["rorwa", "roa"]}],
     "mark": {"type": "point", "filled": true, "size": 196, "stroke": "#ffffff", "strokeWidth": 3, "opacity": 1},
     "encoding": {"x": {"field": "year", "type": "quantitative", "scale": {"domain": [2013.3692, 2023.4363], "nice": false, "zero": false}, "axis": null},
      "y": {"field": "value", "type": "quantitative", "scale": {"domain": [-0.9194, 4.1584], "nice": false, "zero": false}, "axis": null},
      "color": {"field": "key", "type": "nominal", "scale": {"domain": ["rorwa", "roa", "roe"], "range": ["#1a3e86", "#00aeef", "#a6a6a6"]},
       "legend": {"orient": "none", "legendX": 1153, "legendY": 20, "direction": "horizontal", "columns": 3, "title": null,
        "symbolType": "M-2.8,-0.225H-0.65V0.225H-2.8Z M0.65,-0.225H2.8V0.225H0.65Z M-0.2,0A0.2,0.2 0 1,0 0.2,0A0.2,0.2 0 1,0 -0.2,0Z",
        "symbolSize": 400, "symbolOffset": 40, "symbolStrokeWidth": 0, "symbolOpacity": 1, "labelFont": "Noto Sans CJK KR", "labelFontSize": 20, "labelColor": "#222222",
        "labelOffset": 24, "labelLimit": 400, "columnPadding": 65, "padding": 8, "strokeColor": "#c8c8c8", "fillColor": "#f7f8f8",
        "labelExpr": "upper(datum.label)"}}}},
    {"transform": [{"fold": ["roe"]}],
     "mark": {"type": "point", "filled": true, "size": 196, "stroke": "#ffffff", "strokeWidth": 3, "opacity": 1},
     "encoding": {"x": {"field": "year", "type": "quantitative", "scale": {"domain": [2013.3692, 2023.4363], "nice": false, "zero": false}, "axis": null},
      "y": {"field": "value", "type": "quantitative", "scale": {"domain": [-8.745, 22.997], "nice": false, "zero": false}, "axis": null},
      "color": {"field": "key", "type": "nominal", "scale": {"domain": ["rorwa", "roa", "roe"], "range": ["#1a3e86", "#00aeef", "#a6a6a6"]},
       "legend": {"orient": "none", "legendX": 1153, "legendY": 20, "direction": "horizontal", "columns": 3, "title": null,
        "symbolType": "M-2.8,-0.225H-0.65V0.225H-2.8Z M0.65,-0.225H2.8V0.225H0.65Z M-0.2,0A0.2,0.2 0 1,0 0.2,0A0.2,0.2 0 1,0 -0.2,0Z",
        "symbolSize": 400, "symbolOffset": 40, "symbolStrokeWidth": 0, "symbolOpacity": 1, "labelFont": "Noto Sans CJK KR", "labelFontSize": 20, "labelColor": "#222222",
        "labelOffset": 24, "labelLimit": 400, "columnPadding": 65, "padding": 8, "strokeColor": "#c8c8c8", "fillColor": "#f7f8f8",
        "labelExpr": "upper(datum.label)"}}}},
    {"transform": [{"filter": "datum.year == 2014"}],
     "mark": {"type": "point", "filled": true, "size": 196, "stroke": "#ffffff", "strokeWidth": 3, "color": "#1a3e86", "opacity": 1},
     "encoding": {"x": {"field": "year", "type": "quantitative", "scale": {"domain": [2013.3692, 2023.4363], "nice": false, "zero": false}, "axis": null},
      "y": {"field": "rorwa", "type": "quantitative", "scale": {"domain": [-1.38, 6.242], "nice": false, "zero": false}, "axis": null}}},
    {"transform": [{"filter": "datum.year == 2014"}],
     "mark": {"type": "point", "filled": true, "size": 196, "stroke": "#ffffff", "strokeWidth": 3, "color": "#00aeef", "opacity": 1},
     "encoding": {"x": {"field": "year", "type": "quantitative", "scale": {"domain": [2013.3692, 2023.4363], "nice": false, "zero": false}, "axis": null},
      "y": {"field": "roa", "type": "quantitative", "scale": {"domain": [-1.38, 6.242], "nice": false, "zero": false}, "axis": null}}},
    {"transform": [{"filter": "datum.year >= 2015"}],
     "mark": {"type": "text", "fontSize": 23, "dy": -36, "color": "#111111"},
     "encoding": {"x": {"field": "year", "type": "quantitative", "scale": {"domain": [2013.3692, 2023.4363], "nice": false, "zero": false}, "axis": null},
      "y": {"field": "roe", "type": "quantitative", "scale": {"domain": [-8.745, 22.997], "nice": false, "zero": false}, "axis": null}, "text": {"field": "roe", "type": "quantitative", "format": ".1f"}}},
    {"transform": [{"filter": "datum.year == 2014"}],
     "mark": {"type": "text", "fontSize": 23, "dy": 38, "color": "#111111"},
     "encoding": {"x": {"field": "year", "type": "quantitative", "scale": {"domain": [2013.3692, 2023.4363], "nice": false, "zero": false}, "axis": null},
      "y": {"field": "roe", "type": "quantitative", "scale": {"domain": [-8.745, 22.997], "nice": false, "zero": false}, "axis": null}, "text": {"field": "roe", "type": "quantitative", "format": ".1f"}}},
    {"transform": [{"filter": "datum.year >= 2015 && datum.year <= 2022"}],
     "mark": {"type": "text", "fontSize": 23, "dy": -37, "color": "#1f3560"},
     "encoding": {"x": {"field": "year", "type": "quantitative", "scale": {"domain": [2013.3692, 2023.4363], "nice": false, "zero": false}, "axis": null},
      "y": {"field": "rorwa", "type": "quantitative", "scale": {"domain": [-0.9194, 4.1584], "nice": false, "zero": false}, "axis": null}, "text": {"field": "rorwa", "type": "quantitative", "format": ".2f"}}},
    {"transform": [{"filter": "datum.year == 2023"}],
     "mark": {"type": "text", "fontSize": 23, "dx": -10, "dy": -20, "color": "#1f3560"},
     "encoding": {"x": {"field": "year", "type": "quantitative", "scale": {"domain": [2013.3692, 2023.4363], "nice": false, "zero": false}, "axis": null},
      "y": {"field": "rorwa", "type": "quantitative", "scale": {"domain": [-0.9194, 4.1584], "nice": false, "zero": false}, "axis": null}, "text": {"field": "rorwa", "type": "quantitative", "format": ".2f"}}},
    {"transform": [{"filter": "datum.year == 2014"}],
     "mark": {"type": "text", "fontSize": 23, "dy": 37, "color": "#1f3560"},
     "encoding": {"x": {"field": "year", "type": "quantitative", "scale": {"domain": [2013.3692, 2023.4363], "nice": false, "zero": false}, "axis": null},
      "y": {"field": "rorwa", "type": "quantitative", "scale": {"domain": [-1.38, 6.242], "nice": false, "zero": false}, "axis": null}, "text": {"field": "rorwa", "type": "quantitative", "format": ".2f"}}},
    {"transform": [{"filter": "datum.year >= 2015 && datum.year <= 2018"}],
     "mark": {"type": "text", "fontSize": 23, "dy": 25, "color": "#1b8bc7"},
     "encoding": {"x": {"field": "year", "type": "quantitative", "scale": {"domain": [2013.3692, 2023.4363], "nice": false, "zero": false}, "axis": null},
      "y": {"field": "roa", "type": "quantitative", "scale": {"domain": [-0.9194, 4.1584], "nice": false, "zero": false}, "axis": null}, "text": {"field": "roa", "type": "quantitative", "format": ".2f"}}},
    {"transform": [{"filter": "datum.year >= 2019"}],
     "mark": {"type": "text", "fontSize": 23, "dy": 41, "color": "#1b8bc7"},
     "encoding": {"x": {"field": "year", "type": "quantitative", "scale": {"domain": [2013.3692, 2023.4363], "nice": false, "zero": false}, "axis": null},
      "y": {"field": "roa", "type": "quantitative", "scale": {"domain": [-0.9194, 4.1584], "nice": false, "zero": false}, "axis": null}, "text": {"field": "roa", "type": "quantitative", "format": ".2f"}}},
    {"transform": [{"filter": "datum.year == 2014"}],
     "mark": {"type": "text", "fontSize": 23, "dy": 41, "color": "#1b8bc7"},
     "encoding": {"x": {"field": "year", "type": "quantitative", "scale": {"domain": [2013.3692, 2023.4363], "nice": false, "zero": false}, "axis": null},
      "y": {"field": "roa", "type": "quantitative", "scale": {"domain": [-1.38, 6.242], "nice": false, "zero": false}, "axis": null}, "text": {"field": "roa", "type": "quantitative", "format": ".2f"}}}
   ]
  }
 ]
}
